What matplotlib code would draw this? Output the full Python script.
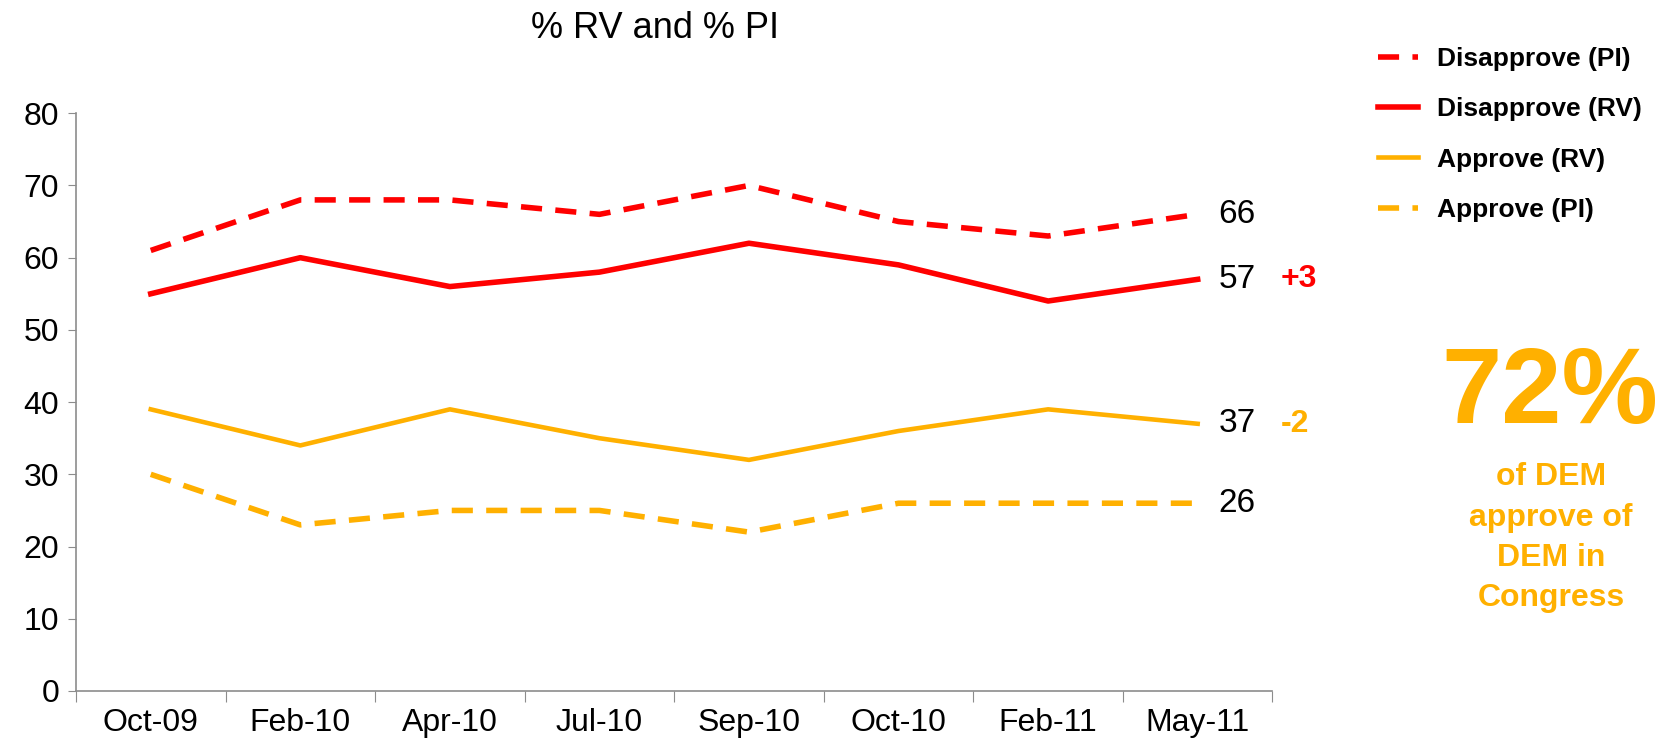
import matplotlib.pyplot as plt

plt.rcParams['font.family'] = ['Liberation Sans', 'DejaVu Sans']

# survey dates and series values (%)
dates = ['Oct-09', 'Feb-10', 'Apr-10', 'Jul-10', 'Sep-10', 'Oct-10', 'Feb-11', 'May-11']
disapprove_pi = [61, 68, 68, 66, 70, 65, 63, 66]
disapprove_rv = [55, 60, 56, 58, 62, 59, 54, 57]
approve_rv = [39, 34, 39, 35, 32, 36, 39, 37]
approve_pi = [30, 23, 25, 25, 22, 26, 26, 26]

red = '#FF0000'
orange = '#FFB000'
grey = '#8C8C8C'

fig = plt.figure(figsize=(16.59, 7.45), dpi=100)
ax = fig.add_axes([0.0458, 0.0725, 0.7212, 0.7755])

x = list(range(len(dates)))
ax.plot(x, disapprove_pi, color=red, lw=4, dashes=(3.8, 2.4), label='Disapprove (PI)')
ax.plot(x, disapprove_rv, color=red, lw=4, label='Disapprove (RV)')
ax.plot(x, approve_rv, color=orange, lw=3.3, label='Approve (RV)')
ax.plot(x, approve_pi, color=orange, lw=4, dashes=(3.8, 2.4), label='Approve (PI)')

ax.set_xlim(-0.5, len(dates) - 0.5)
ax.set_ylim(0, 80)
ax.set_yticks(range(0, 81, 10))
ax.tick_params(axis='y', labelsize=23, length=6, color=grey, pad=6)

# category boundaries as major ticks, labels on minor ticks
ax.set_xticks([i - 0.5 for i in range(len(dates) + 1)])
ax.set_xticklabels([])
ax.set_xticks(x, minor=True)
ax.set_xticklabels(dates, minor=True)
ax.tick_params(axis='x', which='major', length=8, color=grey)
ax.tick_params(axis='x', which='minor', length=0, labelsize=23, pad=12)

for s in ['top', 'right']:
    ax.spines[s].set_visible(False)
for s in ['left', 'bottom']:
    ax.spines[s].set_color(grey)
    ax.spines[s].set_linewidth(1.2)

# end labels
last = len(dates) - 1
for vals in [disapprove_pi, disapprove_rv, approve_rv, approve_pi]:
    ax.annotate(str(vals[-1]), (last, vals[-1]), xytext=(15, 0), textcoords='offset points',
                va='center', ha='left', fontsize=24)
ax.annotate('+3', (last, disapprove_rv[-1]), xytext=(60, 0), textcoords='offset points',
            va='center', ha='left', fontsize=23, fontweight='bold', color=red)
ax.annotate('-2', (last, approve_rv[-1]), xytext=(60, 0), textcoords='offset points',
            va='center', ha='left', fontsize=23, fontweight='bold', color=orange)

fig.text(0.395, 0.962, '% RV and % PI', ha='center', va='center', fontsize=26)

fig.legend(loc='upper left', bbox_to_anchor=(0.8306, 0.937), frameon=False,
           prop={'size': 19, 'weight': 'bold'}, handlelength=1.5, handletextpad=0.72,
           labelspacing=1.0, borderpad=0, borderaxespad=0)

fig.text(0.934, 0.47, '72%', ha='center', va='center', fontsize=78, fontweight='bold', color=orange)
fig.text(0.935, 0.278, 'of DEM\napprove of\nDEM in\nCongress', ha='center', va='center',
         fontsize=23, fontweight='bold', color=orange, linespacing=1.45)

fig.savefig('out.png', dpi=100)
